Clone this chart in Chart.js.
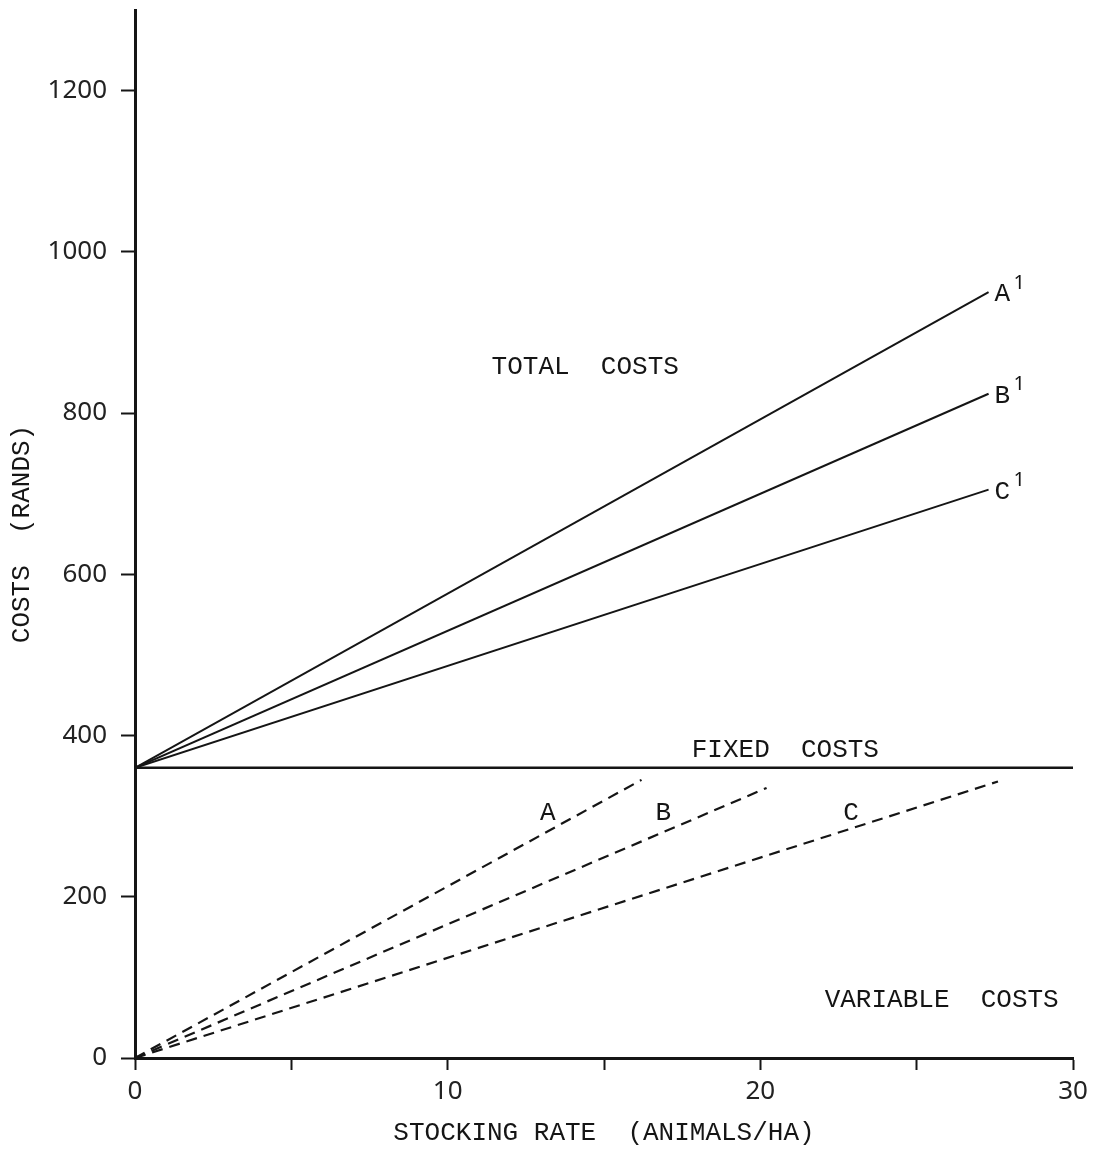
<!DOCTYPE html>
<html>
<head>
<meta charset="utf-8">
<script src="https://cdn.jsdelivr.net/npm/chart.js@4.4.1/dist/chart.umd.min.js"></script>
<style>
  html, body { margin: 0; padding: 0; background: #fff; }
  canvas { display: block; }
</style>
</head>
<body>
<canvas id="chart-0" width="1104" height="1149"></canvas>
<script>
// values (rands vs animals/ha)
const lineNames = ['A', 'B', 'C'];
const fixedCost = 360;
const fixedRange = [0, 30];
const totalEndRate = 27.3;
const totalEndCost = [950, 824, 705];
const variableEndRate = [16.2, 20.2, 27.6];
const variableEndCost = [345, 335, 343];
const yTicks = [0, 200, 400, 600, 800, 1000, 1200];
const xTickLabels = [0, 10, 20, 30];

const ink = '#151515';
const typeFont = "'Liberation Mono', monospace";

let datasets = [];

datasets.push({
  label: 'Fixed costs',
  data: fixedRange.map(r => ({ x: r, y: fixedCost })),
  borderColor: ink,
  borderWidth: 2.5
});

for (let i = 0; i < lineNames.length; i++) {
  datasets.push({
    label: lineNames[i] + '1',
    data: [{ x: 0, y: fixedCost }, { x: totalEndRate, y: totalEndCost[i] }],
    borderColor: ink,
    borderWidth: 2
  });
  datasets.push({
    label: lineNames[i],
    data: [{ x: 0, y: 0 }, { x: variableEndRate[i], y: variableEndCost[i] }],
    borderColor: ink,
    borderWidth: 2.2,
    borderDash: [11, 7]
  });
}

const costLabels = {
  id: 'costLabels',
  afterDatasetsDraw(chart) {
    const { ctx, scales: { x, y } } = chart;
    ctx.save();
    ctx.fillStyle = ink;
    ctx.font = '26px ' + typeFont;
    ctx.textBaseline = 'middle';
    ctx.textAlign = 'center';

    ctx.fillText('TOTAL  COSTS', x.getPixelForValue(14.4), y.getPixelForValue(857));
    ctx.fillText('FIXED  COSTS', x.getPixelForValue(20.8), y.getPixelForValue(382));
    ctx.fillText('VARIABLE  COSTS', x.getPixelForValue(25.8), y.getPixelForValue(72));

    // letters on the dashed variable-cost lines
    const letterX = [13.2, 16.9, 22.9];
    lineNames.forEach((n, i) => {
      ctx.fillText(n, x.getPixelForValue(letterX[i]), y.getPixelForValue(304));
    });

    // A1, B1, C1 at the end of the total-cost lines
    ctx.textAlign = 'left';
    lineNames.forEach((n, i) => {
      const px = x.getPixelForValue(totalEndRate) + 6;
      const py = y.getPixelForValue(totalEndCost[i]) + 2;
      ctx.font = '26px ' + typeFont;
      ctx.fillText(n, px, py);
      ctx.font = "20px 'Noto Sans'";
      ctx.fillText('1', px + 19, py - 11);
    });
    ctx.restore();
  }
};

new Chart(document.getElementById('chart-0'), {
  type: 'line',
  data: { datasets: datasets },
  plugins: [costLabels],
  options: {
    responsive: false,
    animation: false,
    layout: { padding: { top: 10, right: 31, left: 0, bottom: 0 } },
    plugins: {
      legend: { display: false },
      tooltip: { enabled: false }
    },
    elements: { point: { radius: 0 }, line: { tension: 0 } },
    scales: {
      x: {
        type: 'linear',
        min: 0,
        max: 30,
        afterFit: s => { s.height = 91; },
        border: { color: ink, width: 3 },
        grid: { drawOnChartArea: false, drawTicks: true, tickLength: 12, tickColor: ink, tickWidth: 2 },
        ticks: {
          stepSize: 5,
          padding: 6,
          color: '#222',
          font: { family: 'Noto Sans', size: 26 },
          maxRotation: 0,
          callback: v => xTickLabels.includes(v) ? String(v) : ''
        },
        title: {
          display: true,
          text: 'STOCKING RATE  (ANIMALS/HA)',
          color: ink,
          font: { family: 'Liberation Mono', size: 26 },
          padding: { top: 0, bottom: 0 }
        }
      },
      y: {
        type: 'linear',
        min: 0,
        max: 1300,
        afterFit: s => { s.width = 135; s.paddingTop = 0; s.paddingBottom = 0; },
        afterBuildTicks: s => { s.ticks = yTicks.map(v => ({ value: v })); },
        border: { color: ink, width: 3 },
        grid: { drawOnChartArea: false, drawTicks: true, tickLength: 14, tickColor: ink, tickWidth: 2 },
        ticks: {
          padding: 14,
          color: '#222',
          font: { family: 'Noto Sans', size: 26 },
          callback: v => String(v)
        },
        title: {
          display: true,
          text: 'COSTS  (RANDS)',
          color: ink,
          font: { family: 'Liberation Mono', size: 26 },
          padding: { top: 7, bottom: 0 }
        }
      }
    }
  }
});
</script>
</body>
</html>
